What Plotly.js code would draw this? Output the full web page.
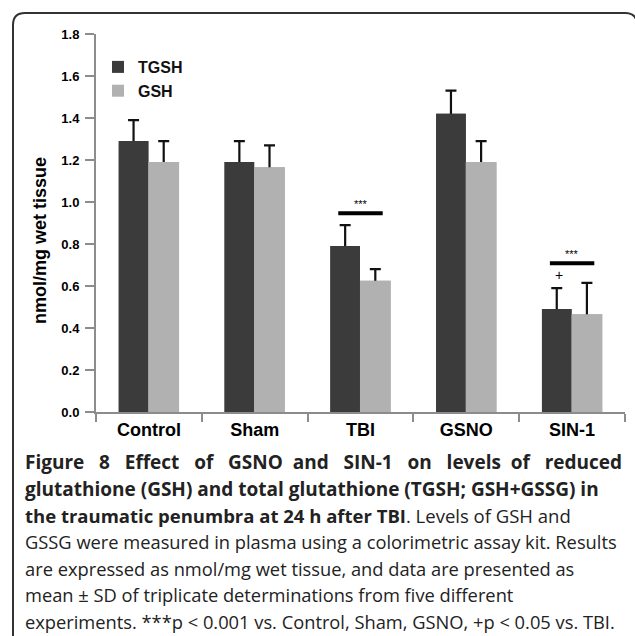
<!DOCTYPE html>
<html>
<head>
<meta charset="utf-8">
<script src="https://cdn.plot.ly/plotly-3.0.1.min.js"></script>
<style>html,body{margin:0;padding:0;background:#fff;}#chart{width:635px;height:636px;}</style>
</head>
<body>
<div id="chart"></div>
<script>
// ---- data ----
const categories = ['Control', 'Sham', 'TBI', 'GSNO', 'SIN-1'];
const tgsh = [1.29, 1.19, 0.79, 1.42, 0.49];
const tgshErr = [0.10, 0.10, 0.10, 0.11, 0.10];
const gsh = [1.19, 1.165, 0.625, 1.19, 0.465];
const gshErr = [0.10, 0.105, 0.055, 0.10, 0.15];
const yTicks = [0, 0.2, 0.4, 0.6, 0.8, 1.0, 1.2, 1.4, 1.6, 1.8];
const sigCategories = ['TBI', 'SIN-1'];
const sigLevels = [0.946, 0.708];
const plusCategory = 'SIN-1';
const plusLevel = 0.652;
const S = '&nbsp;';
const captionLines = [
  '<b>Figure' + S + S + ' 8' + S + S + ' Effect' + S + S + ' of' + S + S + ' GSNO' + S + ' and' + S + S + ' SIN-1' + S + S + ' on' + S + S + ' levels' + S + ' of' + S + S + ' reduced</b>',
  '<b>glutathione (GSH) and total glutathione (TGSH; GSH+GSSG) in</b>',
  '<b>the traumatic penumbra at 24 h after TBI</b>. Levels of GSH and',
  'GSSG were measured in plasma using a colorimetric assay kit. Results',
  'are expressed as nmol/mg wet tissue, and data are presented as',
  'mean ± SD of triplicate determinations from five different',
  'experiments. ***p &lt; 0.001 vs. Control, Sham, GSNO, +p &lt; 0.05 vs. TBI.'
];
const captionSizes = [19, 19, 18.5, 18.3, 18.3, 18.3, 18.3];

// ---- layout geometry (pixels) ----
const W = 635, H = 636;
const M = {l: 96, r: 10, t: 34, b: 224};
const pw = W - M.l - M.r, ph = H - M.t - M.b;
const px2x = p => (p - M.l) / pw;
const px2y = p => (H - M.b - p) / ph;

const chartFont = 'Liberation Sans, Arial, sans-serif';
const capFont = 'Open Sans, Noto Sans, sans-serif';

const darkCol = '#3b3b3b', lightCol = '#b1b1b1';
const pos = {tgsh: {offset: -0.285, width: 0.28}, gsh: {offset: -0.005, width: 0.29}};
const errStyle = {color: '#111', thickness: 2.2, width: 5.5};

const traces = [
  {
    type: 'bar', name: 'TGSH', x: categories, y: tgsh, offset: pos.tgsh.offset, width: pos.tgsh.width,
    marker: {color: darkCol, line: {width: 0}},
    error_y: Object.assign({type: 'data', symmetric: false, array: tgshErr, arrayminus: tgsh.map(() => 0.012)}, errStyle)
  },
  {
    type: 'bar', name: 'GSH', x: categories, y: gsh, offset: pos.gsh.offset, width: pos.gsh.width,
    marker: {color: lightCol, line: {width: 0}},
    error_y: Object.assign({type: 'data', symmetric: false, array: gshErr, arrayminus: gsh.map(() => 0.012)}, errStyle)
  },
  // same bars again on top, hiding the lower end of the error bars
  {
    type: 'bar', name: 'TGSH', x: categories, y: tgsh, offset: pos.tgsh.offset, width: pos.tgsh.width,
    marker: {color: darkCol, line: {width: 0}}, showlegend: false, hoverinfo: 'skip'
  },
  {
    type: 'bar', name: 'GSH', x: categories, y: gsh, offset: pos.gsh.offset, width: pos.gsh.width,
    marker: {color: lightCol, line: {width: 0}}, showlegend: false, hoverinfo: 'skip'
  }
];

const shapes = [];
const annotations = [];
sigCategories.forEach((c, i) => {
  const idx = categories.indexOf(c);
  shapes.push({type: 'line', xref: 'x', yref: 'y', x0: idx - 0.21, x1: idx + 0.21,
    y0: sigLevels[i], y1: sigLevels[i], line: {color: '#000', width: 4}});
  annotations.push({xref: 'x', yref: 'y', x: idx, y: sigLevels[i], text: '***',
    showarrow: false, yanchor: 'bottom', yshift: 1, font: {family: chartFont, size: 11, color: '#000'}});
});
annotations.push({xref: 'x', yref: 'y', x: categories.indexOf(plusCategory) - 0.12, y: plusLevel,
  text: '+', showarrow: false, font: {family: chartFont, size: 14, color: '#000'}});

// caption lines
const capBase = 468, capStep = 26.5;
captionLines.forEach((t, i) => {
  annotations.push({xref: 'paper', yref: 'paper', x: px2x(23), y: px2y(capBase + i * capStep - 6),
    xanchor: 'left', yanchor: 'middle', text: t, showarrow: false, align: 'left',
    font: {family: capFont, size: captionSizes[i], color: '#222'}});
});

// rounded frame
const fx0 = 13, fy0 = 13, fx1 = 637, r = 12;
const P = (x, y) => px2x(x) + ',' + px2y(y);
shapes.push({type: 'path', xref: 'paper', yref: 'paper', layer: 'above',
  path: 'M' + P(fx0, H + 2) + ' L' + P(fx0, fy0 + r) + ' Q' + P(fx0, fy0) + ' ' + P(fx0 + r, fy0) +
        ' L' + P(fx1 - r, fy0) + ' Q' + P(fx1, fy0) + ' ' + P(fx1, fy0 + r) + ' L' + P(fx1, H + 2),
  line: {color: '#333', width: 2}});

const layout = {
  width: W, height: H,
  margin: M,
  paper_bgcolor: '#fff', plot_bgcolor: '#fff',
  showlegend: true,
  barmode: 'overlay',
  font: {family: chartFont, color: '#000'},
  legend: {x: px2x(98), y: px2y(50), xanchor: 'left', yanchor: 'top', bgcolor: 'rgba(0,0,0,0)',
    font: {family: chartFont, size: 16, color: '#111', weight: 'bold'}, tracegroupgap: 0},
  xaxis: {
    type: 'category', showgrid: false, zeroline: false, range: [-0.5, 4.5],
    showline: true, linecolor: '#8c8c8c', linewidth: 2,
    ticks: 'outside', tickson: 'boundaries', ticklen: 8, tickwidth: 2, tickcolor: '#8c8c8c',
    tickfont: {family: chartFont, size: 18, weight: 'bold', color: '#000'}
  },
  yaxis: {
    range: [0, 1.8], showgrid: false, zeroline: false,
    showline: true, linecolor: '#8c8c8c', linewidth: 2,
    ticks: 'outside', ticklen: 9, tickwidth: 2, tickcolor: '#8c8c8c',
    tickvals: yTicks, ticktext: yTicks.map(v => v.toFixed(1)),
    ticklabelstandoff: 3,
    tickfont: {family: chartFont, size: 13, weight: 'bold', color: '#000'},
    title: {text: 'nmol/mg wet tissue' + '&nbsp;'.repeat(7), standoff: 10,
      font: {family: chartFont, size: 18, weight: 'bold', color: '#000'}}
  },
  shapes: shapes,
  annotations: annotations
};

Plotly.newPlot('chart', traces, layout, {displayModeBar: false, staticPlot: true});
</script>
</body>
</html>
